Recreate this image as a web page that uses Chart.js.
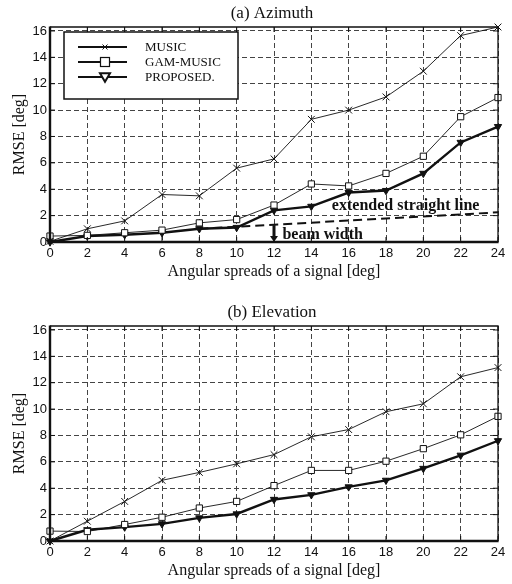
<!DOCTYPE html>
<html>
<head>
<meta charset="utf-8">
<script src="https://cdn.jsdelivr.net/npm/chart.js@4/dist/chart.umd.min.js"></script>
<style>
html,body{margin:0;padding:0;background:#fff;}
#wrapA{position:absolute;left:0;top:0;width:512px;height:299px;}
#wrapB{position:absolute;left:0;top:299px;width:512px;height:285px;}
</style>
</head>
<body>
<div id="wrapA"><canvas id="azimuthChart"></canvas></div>
<div id="wrapB"><canvas id="elevationChart"></canvas></div>
<script>
//______________________________DATA_______________________________
// angular spread of the signal [deg]
var spreads=[0,2,4,6,8,10,12,14,16,18,20,22,24];
var seriesNames=["MUSIC","GAM-MUSIC","PROPOSED."];
// (a) azimuth RMSE [deg]
var azMusic=[0.05,1.0,1.6,3.6,3.5,5.6,6.3,9.3,10.0,11.0,12.95,15.65,16.3];
var azGam=[0.45,0.5,0.7,0.9,1.45,1.7,2.8,4.4,4.25,5.2,6.5,9.5,10.95];
var azProp=[0,0.45,0.55,0.7,1.0,1.1,2.4,2.7,3.75,3.9,5.2,7.55,8.75];
// (b) elevation RMSE [deg]
var elMusic=[0,1.5,3.0,4.6,5.2,5.85,6.55,7.9,8.45,9.8,10.4,12.45,13.15];
var elGam=[0.75,0.72,1.25,1.8,2.5,3.0,4.2,5.35,5.35,6.05,7.0,8.05,9.45];
var elProp=[0,0.85,1.05,1.3,1.75,2.05,3.15,3.5,4.1,4.6,5.5,6.5,7.6];
// extended straight line + beam width arrow in (a)
var extLineX=[8,24];
var extLineY=[1.0,2.25];
var beamX=12;
var beamTop=1.28;
var extLabel="extended straight line";
var extLabelPos=[15.1,2.73];
var beamLabel="beam width";
var beamLabelPos=[12.45,0.57];

var INK="#111";
var SERIF="'Liberation Serif', 'Times New Roman', serif";
var SANS="'Liberation Sans', Arial, sans-serif";

function toPoints(xs,ys){
  var pts=[];
  for(var i=0;i<xs.length;i++){pts.push({x:xs[i],y:ys[i]});}
  return pts;
}

//______________________________MARKERS_______________________________
function drawCross(ctx,x,y,s){
  ctx.beginPath();
  ctx.moveTo(x-s,y-s);ctx.lineTo(x+s,y+s);
  ctx.moveTo(x-s,y+s);ctx.lineTo(x+s,y-s);
  ctx.stroke();
}
function drawSquare(ctx,x,y,s){
  ctx.fillStyle="#fff";
  ctx.fillRect(x-s,y-s,2*s,2*s);
  ctx.strokeRect(x-s,y-s,2*s,2*s);
}
function drawTriDown(ctx,x,y,s){
  ctx.beginPath();
  ctx.moveTo(x-s,y-s*0.75);
  ctx.lineTo(x+s,y-s*0.75);
  ctx.lineTo(x,y+s*0.95);
  ctx.closePath();
  ctx.fillStyle="#fff";
  ctx.fill();
  ctx.stroke();
}

//______________________________PLUGINS_______________________________
// box, inward ticks and the panel title
var framePlugin={
  id:"frame",
  afterDraw:function(chart){
    var ctx=chart.ctx, ca=chart.chartArea;
    var xs=chart.scales.x, ys=chart.scales.y;
    ctx.save();
    ctx.strokeStyle=INK;
    ctx.lineWidth=1.3;
    ctx.beginPath();
    ctx.moveTo(ca.left,ca.top);ctx.lineTo(ca.right,ca.top);ctx.lineTo(ca.right,ca.bottom);
    ctx.stroke();
    ctx.lineWidth=2.4;
    ctx.beginPath();
    ctx.moveTo(ca.left,ca.top-0.6);ctx.lineTo(ca.left,ca.bottom);ctx.lineTo(ca.right+0.6,ca.bottom);
    ctx.stroke();
    ctx.lineWidth=1;
    ctx.beginPath();
    xs.ticks.forEach(function(t){
      var px=xs.getPixelForValue(t.value);
      ctx.moveTo(px,ca.top);ctx.lineTo(px,ca.top+5);
      ctx.moveTo(px,ca.bottom);ctx.lineTo(px,ca.bottom-5);
    });
    ys.ticks.forEach(function(t){
      var py=ys.getPixelForValue(t.value);
      ctx.moveTo(ca.left,py);ctx.lineTo(ca.left+5,py);
      ctx.moveTo(ca.right,py);ctx.lineTo(ca.right-5,py);
    });
    ctx.stroke();
    ctx.fillStyle=INK;
    ctx.font="17px "+SERIF;
    ctx.textAlign="center";
    ctx.textBaseline="middle";
    ctx.fillText(chart.options.panelTitle,(ca.left+ca.right)/2-2,14);
    ctx.restore();
  }
};

// legend box in the top-left corner of (a)
var boxLegendPlugin={
  id:"boxLegend",
  afterDatasetsDraw:function(chart){
    var ctx=chart.ctx, ca=chart.chartArea;
    var bx=ca.left+14, by=ca.top+5, bw=174, bh=67;
    ctx.save();
    ctx.fillStyle="#fff";
    ctx.fillRect(bx,by,bw,bh);
    ctx.strokeStyle=INK;
    ctx.lineWidth=1.5;
    ctx.strokeRect(bx,by,bw,bh);
    for(var i=0;i<seriesNames.length;i++){
      var ly=by+15+i*15;
      ctx.lineWidth=2;
      ctx.beginPath();
      ctx.moveTo(bx+14,ly);ctx.lineTo(bx+63,ly);
      ctx.stroke();
      var mx=bx+41;
      if(i==0){ctx.lineWidth=1;drawCross(ctx,mx,ly,2.5);}
      if(i==1){ctx.lineWidth=1.2;drawSquare(ctx,mx,ly,4.5);}
      if(i==2){ctx.lineWidth=2;drawTriDown(ctx,mx,ly,5);}
      ctx.fillStyle=INK;
      ctx.font="13px "+SERIF;
      ctx.textAlign="left";
      ctx.textBaseline="middle";
      ctx.fillText(seriesNames[i],bx+81,ly+1);
    }
    ctx.restore();
  }
};

// beam width arrow and the two bold notes of (a)
var notesPlugin={
  id:"notes",
  afterDatasetsDraw:function(chart){
    var ctx=chart.ctx, xs=chart.scales.x, ys=chart.scales.y;
    var ax=xs.getPixelForValue(beamX);
    var top=ys.getPixelForValue(beamTop), bot=ys.getPixelForValue(0);
    ctx.save();
    ctx.strokeStyle=INK;ctx.fillStyle=INK;
    ctx.lineWidth=3;
    ctx.beginPath();
    ctx.moveTo(ax,top);ctx.lineTo(ax,bot-5);
    ctx.stroke();
    ctx.beginPath();
    ctx.moveTo(ax-4,bot-6);ctx.lineTo(ax+4,bot-6);ctx.lineTo(ax,bot);
    ctx.closePath();ctx.fill();
    ctx.font="bold 16px "+SERIF;
    ctx.textAlign="left";
    ctx.textBaseline="middle";
    ctx.fillText(extLabel,xs.getPixelForValue(extLabelPos[0]),ys.getPixelForValue(extLabelPos[1]));
    ctx.fillText(beamLabel,xs.getPixelForValue(beamLabelPos[0]),ys.getPixelForValue(beamLabelPos[1]));
    ctx.restore();
  }
};

//______________________________CHARTS_______________________________
function makeChart(canvasId,title,music,gam,prop,padBottom,extra){
  var datasets=[];
  if(extra){
    datasets.push({
      data:toPoints(extLineX,extLineY),
      borderColor:INK,borderWidth:2,borderDash:[9,5],
      pointRadius:0,fill:false,clip:false
    });
  }
  datasets.push({
    label:seriesNames[0],data:toPoints(spreads,music),
    borderColor:INK,borderWidth:0.9,
    pointStyle:"crossRot",pointRadius:4.8,pointBorderWidth:1,pointBorderColor:INK,
    fill:false,clip:false
  });
  datasets.push({
    label:seriesNames[1],data:toPoints(spreads,gam),
    borderColor:INK,borderWidth:0.9,
    pointStyle:"rect",pointRadius:4.4,pointBorderWidth:1,pointBorderColor:INK,pointBackgroundColor:"#fff",
    fill:false,clip:false
  });
  datasets.push({
    label:seriesNames[2],data:toPoints(spreads,prop),
    borderColor:INK,borderWidth:2.4,
    pointStyle:"triangle",pointRotation:180,pointRadius:4.2,pointBorderWidth:1,
    pointBorderColor:INK,pointBackgroundColor:INK,
    fill:false,clip:false
  });
  var plugins=[framePlugin];
  if(extra){plugins.push(notesPlugin);plugins.push(boxLegendPlugin);}
  return new Chart(document.getElementById(canvasId),{
    type:"line",
    data:{datasets:datasets},
    plugins:plugins,
    options:{
      panelTitle:title,
      responsive:true,
      maintainAspectRatio:false,
      animation:false,
      layout:{padding:{left:0,right:14,top:27,bottom:padBottom}},
      plugins:{legend:{display:false},tooltip:{enabled:false},title:{display:false}},
      elements:{line:{tension:0}},
      scales:{
        x:{
          type:"linear",min:0,max:24,
          ticks:{stepSize:2,padding:4,color:INK,font:{family:SANS,size:13}},
          grid:{color:"#444",lineWidth:1,drawTicks:false},
          border:{display:false,dash:[5,3]},
          title:{display:true,text:"Angular spreads of a signal [deg]",color:INK,
            font:{family:SERIF,size:16},padding:{top:0,bottom:4}},
          afterFit:function(s){s.height=43;}
        },
        y:{
          type:"linear",min:0,max:16.3,
          ticks:{stepSize:2,padding:3,includeBounds:false,color:INK,font:{family:SANS,size:13}},
          grid:{color:"#444",lineWidth:1,drawTicks:false},
          border:{display:false,dash:[5,3]},
          title:{display:true,text:"RMSE [deg]",color:INK,
            font:{family:SERIF,size:16},padding:{top:10,bottom:0}},
          afterFit:function(s){s.width=50;}
        }
      }
    }
  });
}

makeChart("azimuthChart","(a) Azimuth",azMusic,azGam,azProp,14,true);
makeChart("elevationChart","(b) Elevation",elMusic,elGam,elProp,0,false);
</script>
</body>
</html>
